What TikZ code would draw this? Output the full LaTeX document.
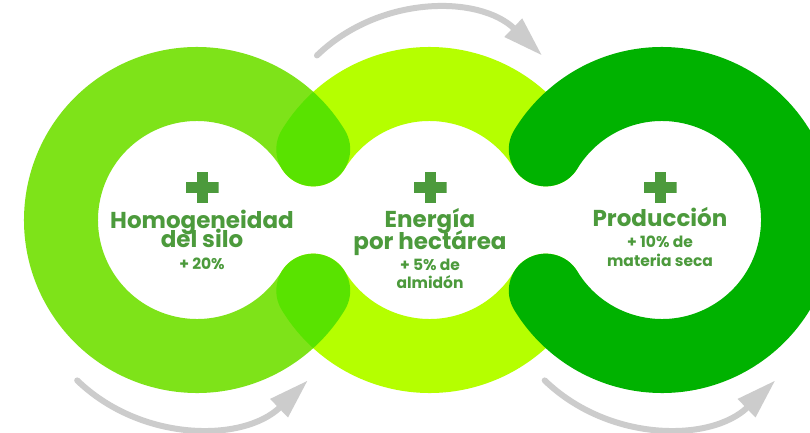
\documentclass[tikz,border=0pt]{standalone}
\usepackage{fontspec}
\setmainfont{Poppins}
\usepackage{xcolor}
\usepackage{tikz}
\usetikzlibrary{arrows.meta,positioning}

\definecolor{leafgreen}{HTML}{7EE319}
\definecolor{limegreen}{HTML}{B5FF00}
\definecolor{deepgreen}{HTML}{00B200}
\definecolor{textgreen}{HTML}{4C9A3C}
\definecolor{arrowgray}{HTML}{CCCCCC}

\begin{document}
\begin{tikzpicture}[x=1pt, y=1pt, node distance=20pt]
    % Define styles
    \tikzstyle{ring} = [line width=74pt, line cap=round]
    \tikzstyle{flow} = [arrowgray, line width=6pt, line cap=round, -{Triangle[length=40pt, width=24pt]}]
    \tikzstyle{plusmark} = [minimum width=33pt, minimum height=31pt, inner sep=0pt,
        path picture={\fill[textgreen] ([xshift=-5.5pt]path picture bounding box.south) rectangle ([xshift=5.5pt]path picture bounding box.north);
                      \fill[textgreen] ([yshift=-5.5pt]path picture bounding box.west) rectangle ([yshift=5.5pt]path picture bounding box.east);}]
    \tikzstyle{title} = [textgreen, font=\bfseries\fontsize{23}{23}\selectfont, inner sep=0pt, anchor=base]
    \tikzstyle{gain} = [textgreen, font=\bfseries\fontsize{15.5}{16}\selectfont, inner sep=0pt, anchor=base]

    \fill[white] (0,0) rectangle (810,432);
    \clip (0,0) rectangle (810,432);

    % Ring centres
    \coordinate (cL) at (197,212);
    \coordinate (cM) at (429.5,212);
    \coordinate (cR) at (662,212);

    % Rings
    \begin{scope}[blend group=multiply]
        \draw[ring, leafgreen] ([shift={(31.3:136)}]cL) arc[start angle=31.3, end angle=328.7, radius=136];
        \draw[ring, limegreen] ([shift={(31.3:136)}]cM) arc[start angle=31.3, end angle=148.7, radius=136];
        \draw[ring, limegreen] ([shift={(211.3:136)}]cM) arc[start angle=211.3, end angle=328.7, radius=136];
        \draw[ring, deepgreen] ([shift={(-148.7:136)}]cR) arc[start angle=-148.7, end angle=148.7, radius=136];
    \end{scope}

    % Arrows
    \coordinate (topflow) at (429.5,260);
    \coordinate (leftflow) at (192.5,171);
    \coordinate (rightflow) at (660,171);
    \draw[flow] ([shift={(134:162)}]topflow) arc[start angle=134, end angle=46, radius=162];
    \draw[flow] ([shift={(226:166)}]leftflow) arc[start angle=226, end angle=314, radius=166];
    \draw[flow] ([shift={(226:166)}]rightflow) arc[start angle=226, end angle=314, radius=166];

    % Nodes
    \node[plusmark] (plus_silo) at (202,244.5) {};
    \node[title] (silo_a) at (202,204) {Homogeneidad};
    \node[title] (silo_b) at (202,185) {del silo};
    \node[gain] (silo_gain) at (202,163) {+ 20\%};

    \node[plusmark] (plus_energy) at (430,244.5) {};
    \node[title] (energy_a) at (430,205) {Energía};
    \node[title] (energy_b) at (430,183) {por hectárea};
    \node[gain] (energy_gain_a) at (430,162) {+ 5\% de};
    \node[gain] (energy_gain_b) at (430,144) {almidón};

    \node[plusmark] (plus_prod) at (660,244.5) {};
    \node[title] (prod_a) at (660,206) {Producción};
    \node[gain] (prod_gain_a) at (660,185) {+ 10\% de};
    \node[gain] (prod_gain_b) at (660,166) {materia seca};
\end{tikzpicture}
\end{document}
